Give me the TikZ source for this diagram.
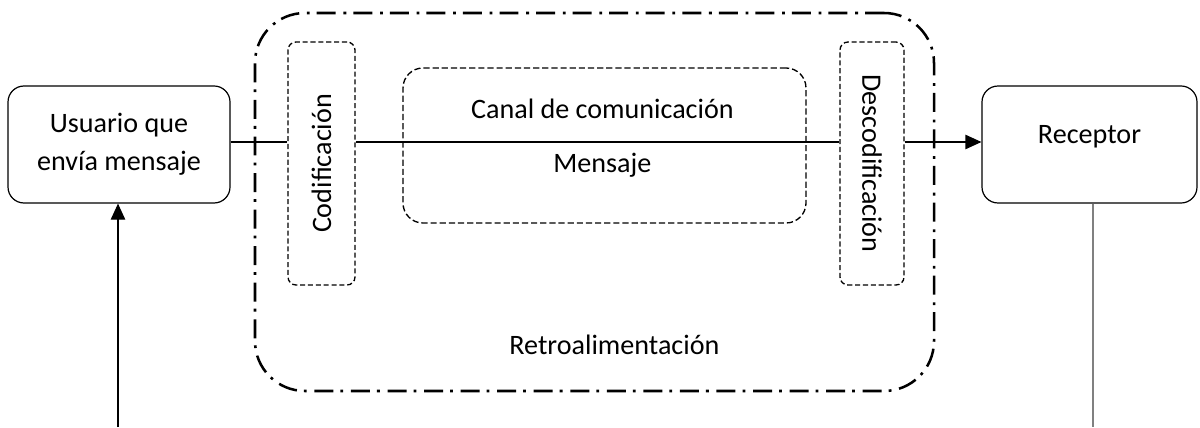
\documentclass[tikz,border=0pt]{standalone}
\usepackage{fontspec}
\setmainfont{Carlito}
\usetikzlibrary{arrows.meta}

\begin{document}
\begin{tikzpicture}[font=\fontsize{20}{27}\selectfont,
  caja/.style={draw,line width=0.85pt,rounded corners=0.4cm,inner sep=0pt,align=center},
  codbox/.style={draw,line width=0.95pt,dash pattern=on 3.6pt off 2pt,rounded corners=0.2cm,inner sep=0pt},
  canalbox/.style={draw,line width=0.95pt,dash pattern=on 4.4pt off 2.1pt,rounded corners=0.5cm,inner sep=0pt},
  retrobox/.style={draw,line width=1.8pt,dash pattern=on 13.5pt off 5pt on 2pt off 5.5pt,rounded corners=1.25cm,inner sep=0pt},
  flecha/.style={line width=0.85pt,-{Triangle[length=0.4cm,width=0.36cm]}}]
\useasboundingbox (0,0) rectangle (30,10.675);
\node[retrobox,minimum width=16.975cm,minimum height=9.45cm] (retro) at (14.8625,5.625) {};
\node[caja,minimum width=5.55cm,minimum height=2.925cm] (sender) at (2.975,7.0625) {Usuario que\\envía mensaje};
\node[caja,minimum width=5.375cm,minimum height=2.925cm,text depth=0.5cm] (receptor) at (27.2375,7.0625) {Receptor};
\node[codbox,minimum width=1.675cm,minimum height=6.075cm] (codif) at (8.0375,6.5875) {};
\node[codbox,minimum width=1.6cm,minimum height=6.075cm] (descod) at (21.8,6.5875) {};
\node[canalbox,minimum width=10.075cm,minimum height=3.875cm] (canal) at (15.1125,7.0375) {};
\node[rotate=90] (codiftxt) at (codif) {Codificación};
\node[rotate=-90] (descodtxt) at (descod) {Descodificación};
\node (canaltxt) at (15.06,7.95) {Canal de comunicación};
\node (mensaje) at (15.06,6.55) {Mensaje};
\node (retrotxt) at (15.36,2.05) {Retroalimentación};
% mensaje que va del usuario al receptor
\coordinate (linea) at (0,7.125);
\draw[line width=0.85pt] (sender.east |- linea) -- (codif.west |- linea);
\draw[line width=0.85pt] (codif.east |- linea) -- (descod.west |- linea);
\draw[flecha] (descod.east |- linea) -- (receptor.west |- linea);
% retorno
\coordinate (abajo1) at (2.95,0);
\coordinate (abajo2) at (27.325,0);
\draw[flecha] (abajo1) -- (sender.south -| abajo1);
\draw[gray,line width=1.1pt] (receptor.south -| abajo2) -- (abajo2);
\end{tikzpicture}
\end{document}
